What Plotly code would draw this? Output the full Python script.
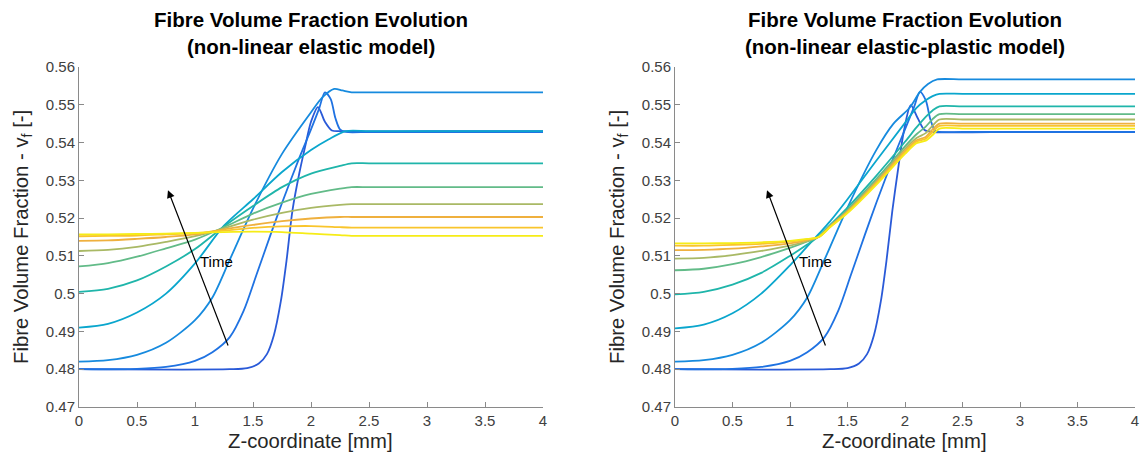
import plotly.graph_objects as go

# ---------------- data ----------------
COLORS = ["#2a5ad8", "#1f72e2", "#168ade", "#0aa6cd", "#1fb5aa",
          "#62bb88", "#a9b965", "#efb03e", "#f9c52c", "#f6ec17"]

X_TICKS = [0, 0.5, 1, 1.5, 2, 2.5, 3, 3.5, 4]
X_TICK_TEXT = ["0", "0.5", "1", "1.5", "2", "2.5", "3", "3.5", "4"]
Y_TICKS = [0.47, 0.48, 0.49, 0.50, 0.51, 0.52, 0.53, 0.54, 0.55, 0.56]
Y_TICK_TEXT = ["0.47", "0.48", "0.49", "0.5", "0.51", "0.52", "0.53", "0.54", "0.55", "0.56"]

# ---- left panel: non-linear elastic model ----
el_grid = [0, 0.25, 0.5, 0.75, 1.0, 1.25, 1.5, 1.75, 2.0, 2.25, 2.35, 2.5, 3.0, 3.5, 4.0]
el_c10 = [.5157, .5157, .5158, .5159, .5161, .5163, .5164, .5163, .5159, .5155, .5153, .5153, .5153, .5153, .5153]
el_c9 = [.5152, .5153, .5154, .5157, .5160, .5167, .5174, .5178, .5179, .5176, .5175, .5175, .5175, .5175, .5175]
el_c8 = [.5140, .5141, .5145, .5150, .5157, .5170, .5182, .5192, .5199, .5203, .5203, .5203, .5203, .5203, .5203]
el_c7 = [.5113, .5116, .5124, .5137, .5152, .5173, .5196, .5214, .5227, .5235, .5237, .5237, .5237, .5237, .5237]
el_c6 = [.5072, .5081, .5098, .5120, .5143, .5176, .5212, .5241, .5264, .5278, .5282, .5282, .5282, .5282, .5282]
el_c5 = [.5005, .5013, .5035, .5072, .5118, .5178, .5232, .5282, .5318, .5338, .5345, .5345, .5345, .5345, .5345]

el_c4_x = [0, 0.25, 0.5, 0.75, 1.0, 1.25, 1.5, 1.75, 2.0, 2.15, 2.3, 2.5, 3.0, 4.0]
el_c4 = [.4910, .4920, .4950, .5000, .5080, .5180, .5250, .5322, .5380, .5408, .5430, .5430, .5430, .5430]

el_c3_x = [0, 0.25, 0.5, 0.75, 1.0, 1.15, 1.3, 1.5, 1.75, 2.0, 2.1, 2.2, 2.27, 2.35, 2.5, 3.0, 4.0]
el_c3 = [.4820, .4824, .4838, .4870, .4930, .4990, .5090, .5225, .5370, .5480, .5520, .5542, .5538, .5533, .5533, .5533, .5533]

el_c2_x = [0, 0.5, 0.75, 1.0, 1.15, 1.3, 1.42, 1.53, 1.65, 1.75, 1.9, 2.0, 2.07, 2.12, 2.17, 2.21, 2.25, 2.3, 2.5, 3.0, 4.0]
el_c2 = [.4800, .4801, .4806, .4822, .4845, .4885, .4955, .5050, .5155, .5240, .5360, .5435, .5490, .5533, .5515, .5465, .5435, .5428, .5428, .5428, .5428]

el_c1_x = [0, 1.3, 1.45, 1.55, 1.62, 1.68, 1.74, 1.79, 1.84, 1.9, 1.95, 2.0, 2.06, 2.12, 2.18, 2.25, 3.0, 4.0]
el_c1 = [.4800, .4800, .4803, .4815, .4840, .4890, .4980, .5090, .5220, .5320, .5390, .5455, .5494, .5455, .5432, .5430, .5430, .5430]

# ---- right panel: non-linear elastic-plastic model ----
ep_grid = [0, 0.25, 0.5, 0.75, 1.0, 1.15, 1.25, 1.35, 1.5, 1.75, 2.0, 2.1, 2.18, 2.24, 2.3, 2.5, 3.0, 4.0]
ep_c10 = [.5133, .5133, .5134, .5136, .5140, .5145, .5150, .5176, .5213, .5288, .5370, .5398, .5405, .5420, .5437, .5437, .5437, .5437]
ep_c9 = [.5127, .5127, .5129, .5132, .5138, .5144, .5150, .5177, .5215, .5291, .5374, .5402, .5410, .5428, .5444, .5444, .5444, .5444]
ep_c8 = [.5115, .5116, .5119, .5125, .5133, .5142, .5150, .5178, .5217, .5294, .5378, .5406, .5415, .5435, .5450, .5450, .5450, .5450]
ep_c7 = [.5093, .5095, .5102, .5113, .5127, .5139, .5150, .5179, .5219, .5298, .5383, .5412, .5425, .5445, .5461, .5461, .5461, .5461]
ep_c6 = [.5062, .5066, .5078, .5097, .5121, .5138, .5151, .5180, .5222, .5303, .5390, .5422, .5442, .5462, .5475, .5475, .5475, .5475]
ep_c5 = [.4998, .5005, .5024, .5055, .5100, .5130, .5152, .5182, .5228, .5312, .5402, .5440, .5468, .5485, .5496, .5496, .5496, .5496]
ep_c4 = [.4908, .4918, .4948, .5000, .5075, .5125, .5158, .5192, .5250, .5352, .5452, .5492, .5512, .5523, .5529, .5529, .5529, .5529]

ep_c3_x = [0, 0.25, 0.5, 0.75, 1.0, 1.15, 1.3, 1.5, 1.75, 1.9, 2.04, 2.13, 2.2, 2.28, 2.5, 3.0, 4.0]
ep_c3 = [.4820, .4824, .4838, .4870, .4930, .4990, .5090, .5228, .5380, .5450, .5492, .5534, .5555, .5567, .5567, .5567, .5567]

ep_c2_x = [0, 0.5, 0.75, 1.0, 1.15, 1.3, 1.42, 1.53, 1.65, 1.75, 1.9, 2.0, 2.08, 2.13, 2.18, 2.22, 2.26, 2.3, 2.5, 3.0, 4.0]
ep_c2 = [.4800, .4801, .4806, .4822, .4845, .4885, .4955, .5050, .5155, .5240, .5360, .5435, .5495, .5534, .5512, .5462, .5432, .5428, .5428, .5428, .5428]

ep_c1_x = [0, 1.35, 1.5, 1.6, 1.67, 1.73, 1.79, 1.84, 1.89, 1.94, 1.99, 2.05, 2.11, 2.17, 2.25, 3.0, 4.0]
ep_c1 = [.4800, .4800, .4803, .4815, .4840, .4890, .4980, .5090, .5220, .5330, .5430, .5499, .5465, .5433, .5428, .5428, .5428]

TITLES_LEFT = ["Fibre Volume Fraction Evolution", "(non-linear elastic model)"]
TITLES_RIGHT = ["Fibre Volume Fraction Evolution", "(non-linear elastic-plastic model)"]

# ---------------- figure ----------------
FONT = "Liberation Sans, Arial, Helvetica, sans-serif"
W, H = 1140, 460
L_DOM = [79 / W, 543 / W]
R_DOM = [675 / W, 1135 / W]
Y_DOM = [1 - 407 / H, 1 - 67 / H]

left = [(el_c1_x, el_c1), (el_c2_x, el_c2), (el_c3_x, el_c3), (el_c4_x, el_c4),
        (el_grid, el_c5), (el_grid, el_c6), (el_grid, el_c7), (el_grid, el_c8),
        (el_grid, el_c9), (el_grid, el_c10)]
right = [(ep_c1_x, ep_c1), (ep_c2_x, ep_c2), (ep_c3_x, ep_c3), (ep_grid, ep_c4),
         (ep_grid, ep_c5), (ep_grid, ep_c6), (ep_grid, ep_c7), (ep_grid, ep_c8),
         (ep_grid, ep_c9), (ep_grid, ep_c10)]

fig = go.Figure()
for i, (xs, ys) in enumerate(left):
    fig.add_trace(go.Scatter(x=xs, y=ys, mode="lines", xaxis="x", yaxis="y",
                             line=dict(color=COLORS[i], width=1.8, shape="spline", smoothing=0.8),
                             showlegend=False, hoverinfo="skip"))
for i, (xs, ys) in enumerate(right):
    fig.add_trace(go.Scatter(x=xs, y=ys, mode="lines", xaxis="x2", yaxis="y2",
                             line=dict(color=COLORS[i], width=1.8, shape="spline", smoothing=0.8),
                             showlegend=False, hoverinfo="skip"))

axis_common = dict(showgrid=False, zeroline=False, showline=True, linecolor="#8a8a8a",
                   linewidth=1, ticks="inside", ticklen=5, tickcolor="#8a8a8a",
                   tickfont=dict(family=FONT, size=15, color="#404040"), mirror=False,
                   automargin=False)

fig.update_layout(
    template="none",
    width=W, height=H, margin=dict(l=0, r=0, t=0, b=0, autoexpand=False),
    paper_bgcolor="white", plot_bgcolor="white",
    xaxis=dict(domain=L_DOM, anchor="y", range=[0, 4], tickvals=X_TICKS, ticktext=X_TICK_TEXT, **axis_common),
    yaxis=dict(domain=Y_DOM, anchor="x", range=[0.47, 0.56], tickvals=Y_TICKS, ticktext=Y_TICK_TEXT, **axis_common),
    xaxis2=dict(domain=R_DOM, anchor="y2", range=[0, 4], tickvals=X_TICKS, ticktext=X_TICK_TEXT, **axis_common),
    yaxis2=dict(domain=Y_DOM, anchor="x2", range=[0.47, 0.56], tickvals=Y_TICKS, ticktext=Y_TICK_TEXT, **axis_common),
)

ann = []
for dom, titles in ((L_DOM, TITLES_LEFT), (R_DOM, TITLES_RIGHT)):
    cx = (dom[0] + dom[1]) / 2
    ann.append(dict(x=cx, y=1 - 20 / H, xref="paper", yref="paper", text="<b>%s</b>" % titles[0],
                    showarrow=False, font=dict(family=FONT, size=20.5, color="#000000"),
                    xanchor="center", yanchor="middle"))
    ann.append(dict(x=cx, y=1 - 47 / H, xref="paper", yref="paper", text="<b>%s</b>" % titles[1],
                    showarrow=False, font=dict(family=FONT, size=20.5, color="#000000"),
                    xanchor="center", yanchor="middle"))
    ann.append(dict(x=cx, y=1 - 441 / H, xref="paper", yref="paper", text="Z-coordinate [mm]",
                    showarrow=False, font=dict(family=FONT, size=20.3, color="#262626"),
                    xanchor="center", yanchor="middle"))
    ann.append(dict(x=dom[0] - 57 / W, y=1 - 237 / H, xref="paper", yref="paper",
                    text="Fibre Volume Fraction - v<sub>f</sub> [-]", textangle=-90,
                    showarrow=False, font=dict(family=FONT, size=20.3, color="#262626"),
                    xanchor="center", yanchor="middle"))

# time arrows
ann.append(dict(x=0.767, y=0.5274, ax=1.29, ay=0.4859, xref="x", yref="y", axref="x", ayref="y",
                showarrow=True, arrowhead=2, arrowsize=1.3, arrowwidth=1.2, arrowcolor="#000000", text=""))
ann.append(dict(x=0.80, y=0.5274, ax=1.313, ay=0.4859, xref="x2", yref="y2", axref="x2", ayref="y2",
                showarrow=True, arrowhead=2, arrowsize=1.3, arrowwidth=1.2, arrowcolor="#000000", text=""))
ann.append(dict(x=1.03, y=0.5086, xref="x", yref="y", text="Time", showarrow=False,
                font=dict(family=FONT, size=15, color="#000000"), xanchor="left", yanchor="middle"))
ann.append(dict(x=1.06, y=0.5086, xref="x2", yref="y2", text="Time", showarrow=False,
                font=dict(family=FONT, size=15, color="#000000"), xanchor="left", yanchor="middle"))

fig.update_layout(annotations=ann)
fig.write_html("out.html", config={"displayModeBar": False},
               post_script="document.body.style.margin='0';document.body.style.padding='0';")
